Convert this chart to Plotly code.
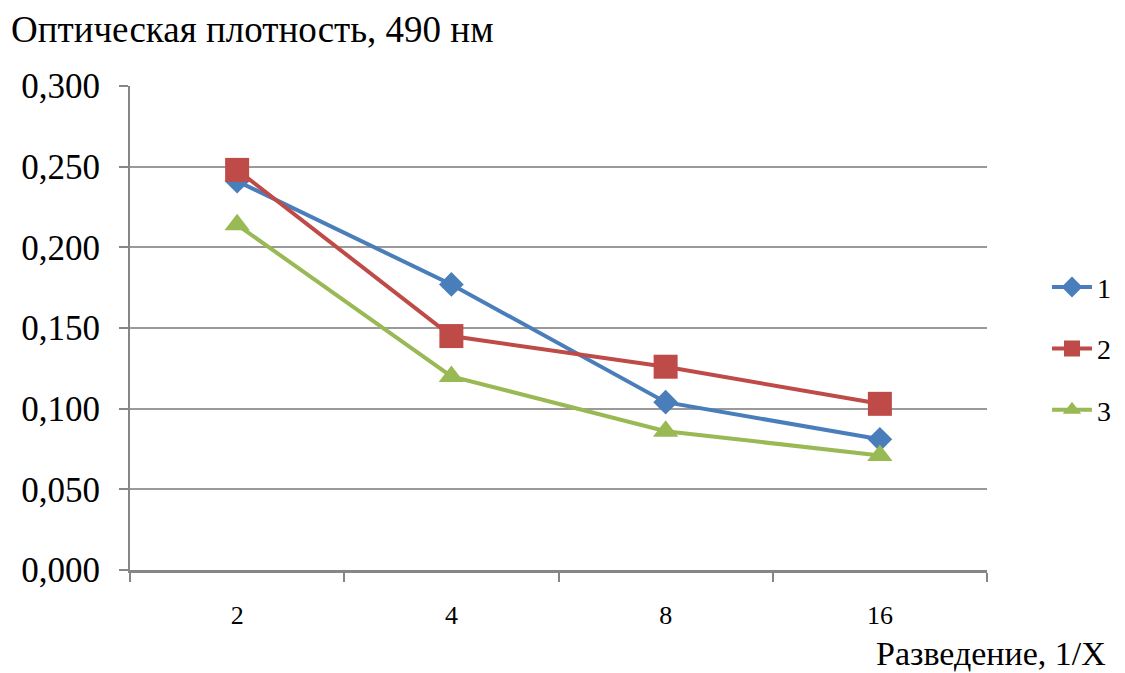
import plotly.graph_objects as go

categories = ["2", "4", "8", "16"]
series_names = ["1", "2", "3"]
s1 = [0.241, 0.177, 0.104, 0.081]
s2 = [0.248, 0.145, 0.126, 0.103]
s3 = [0.214, 0.120, 0.086, 0.071]
y_ticks = [0.0, 0.05, 0.10, 0.15, 0.20, 0.25, 0.30]

colors = ["#4A7EBB", "#BE4B48", "#98B954"]
symbols = ["diamond", "square", "triangle-up"]
sizes = [19, 24, 22]

fig = go.Figure()
for name, vals, c, sym, sz in zip(series_names, [s1, s2, s3], colors, symbols, sizes):
    fig.add_trace(go.Scatter(
        x=categories, y=vals, name=name, legendgroup=name,
        mode="lines+markers",
        line=dict(color=c, width=4),
        marker=dict(symbol=sym, size=sz, color=c),
    ))

font_family = "Liberation Serif, DejaVu Serif, serif"
L, T, PW, PH = 122, 78, 857, 484

fig.update_layout(
    width=1125, height=673,
    margin=dict(l=L, r=1125 - L - PW, t=T, b=673 - T - PH),
    paper_bgcolor="white", plot_bgcolor="white",
    separators=", ",
    font=dict(family=font_family, color="black", size=26),
    showlegend=True,
    legend=dict(x=1.070, y=0.457, xanchor="left", yanchor="middle",
                font=dict(family=font_family, size=28), tracegroupgap=22,
                itemwidth=40, bgcolor="rgba(0,0,0,0)"),
    xaxis=dict(
        type="category", categoryorder="array", categoryarray=categories,
        range=[-0.5, len(categories) - 0.5],
        tickson="boundaries", ticks="outside", ticklen=9, tickwidth=2,
        tickcolor="#868686", showline=True, linecolor="#868686", linewidth=3,
        showgrid=False, tickfont=dict(family=font_family, size=26),
        ticklabelstandoff=20, zeroline=False,
    ),
    yaxis=dict(
        range=[0, 0.3], tickvals=y_ticks, tickformat=".3f",
        ticks="outside", ticklen=9, tickwidth=2, tickcolor="#868686",
        showline=True, linecolor="#868686", linewidth=2,
        showgrid=True, gridcolor="#9a9a9a", gridwidth=2,
        tickfont=dict(family=font_family, size=35), zeroline=False,
        ticklabelstandoff=12,
    ),
    annotations=[
        dict(text="Оптическая плотность, 490 нм", xref="paper", yref="paper",
             x=(1 - L) / PW, y=1 + (T - 22) / PH, xanchor="left", yanchor="middle",
             showarrow=False, font=dict(family=font_family, size=37)),
        dict(text="Разведение, 1/X", xref="paper", yref="paper",
             x=(1100 - L) / PW, y=-(645 - T - PH) / PH, xanchor="right", yanchor="middle",
             showarrow=False, font=dict(family=font_family, size=34)),
    ],
)

fig.write_html("out.html")
